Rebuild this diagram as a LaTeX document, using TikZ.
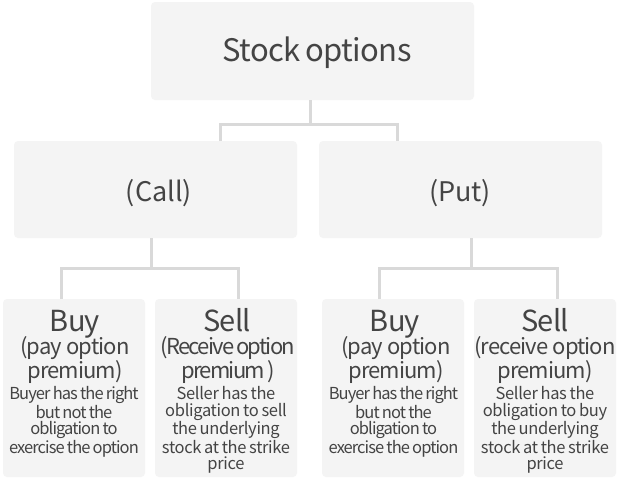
\documentclass[tikz,border=0pt]{standalone}
\usepackage{fontspec}
\setmainfont{Noto Sans CJK KR}
\newfontfamily\topfont[LetterSpace=-2]{Noto Sans CJK KR}
\newfontfamily\ttlfont[LetterSpace=-3]{Noto Sans CJK KR}
\newfontfamily\subfontA[LetterSpace=-4]{Noto Sans CJK KR}
\newfontfamily\subfontB[LetterSpace=-8,WordSpace=0.6]{Noto Sans CJK KR}
\newfontfamily\descfontA[LetterSpace=-5.6,WordSpace=0.8]{Noto Sans CJK KR}
\newfontfamily\descfontB[LetterSpace=-2,WordSpace=0.8]{Noto Sans CJK KR}
\definecolor{boxfill}{HTML}{F4F4F4}
\definecolor{linegray}{HTML}{D9D9D9}
\definecolor{txt}{HTML}{444444}
\begin{document}
\begin{tikzpicture}[x=1pt,y=-1pt,
  box/.style={fill=boxfill, rounded corners=4pt, draw=none, inner sep=0pt, outer sep=0pt, anchor=north west},
  conn/.style={draw=linegray, line width=3pt},
  txtnode/.style={text=txt, inner sep=0pt, align=center},
  bigtxt/.style={txtnode, font=\topfont\fontsize{31}{31}\selectfont, anchor=base},
  midtxt/.style={txtnode, font=\fontsize{27}{27}\selectfont, anchor=base},
  ttltxt/.style={txtnode, font=\ttlfont\fontsize{29}{29}\selectfont, anchor=base},
  subtxt/.style={txtnode, font=\subfontA\fontsize{22}{19.5}\selectfont, anchor=north},
  subtxtB/.style={txtnode, font=\subfontB\fontsize{22}{19.5}\selectfont, anchor=north},
  desctxt/.style={txtnode, font=\descfontA\fontsize{16.5}{16.8}\selectfont, anchor=north},
  desctxtB/.style={txtnode, font=\descfontB\fontsize{16.5}{16.8}\selectfont, anchor=north}]
\fill[white] (0,0) rectangle (620,480);
\useasboundingbox (0,0) rectangle (620,480);
% boxes
\node[box, minimum width=323pt, minimum height=98pt] (top) at (151,2) {};
\node[box, minimum width=283pt, minimum height=97pt] (call) at (14,141) {};
\node[box, minimum width=283pt, minimum height=97pt] (put) at (319,141) {};
\node[box, minimum width=142pt, minimum height=178pt] (buyA) at (3,299) {};
\node[box, minimum width=142pt, minimum height=178pt] (sellA) at (155,299) {};
\node[box, minimum width=142pt, minimum height=178pt] (buyB) at (322,299) {};
\node[box, minimum width=142pt, minimum height=178pt] (sellB) at (474,299) {};
% junction coordinates
\coordinate (j0) at (310,124);
\coordinate (j0L) at (220,124);
\coordinate (j0R) at (397,124);
\coordinate (j1) at (151,268);
\coordinate (j1L) at (61,268);
\coordinate (j1R) at (238,268);
\coordinate (j2) at (471,268);
\coordinate (j2L) at (379,268);
\coordinate (j2R) at (557,268);
% connectors
\draw[conn] (j0 |- top.south) -- (j0);
\draw[conn] (j0L |- call.north) -- (j0L) -- (j0R) -- (j0R |- put.north);
\draw[conn] (j1 |- call.south) -- (j1);
\draw[conn] (j1L |- buyA.north) -- (j1L) -- (j1R) -- (j1R |- sellA.north);
\draw[conn] (j2 |- put.south) -- (j2);
\draw[conn] (j2L |- buyB.north) -- (j2L) -- (j2R) -- (j2R |- sellB.north);
% texts
\node[bigtxt] (topT) at (317,61) {Stock options};
\node[midtxt] (callT) at (159,201) {(Call)};
\node[midtxt] (putT) at (460,201) {(Put)};
\node[ttltxt] (buyAT) at (75,331) {Buy};
\node[subtxt] (buyAS) at (75,336) {(pay option\\premium)};
\node[desctxt] (buyAD) at (74,386.5) {Buyer has the right\\but not the\\obligation to\\exercise the option};
\node[ttltxt] (sellAT) at (227,331) {Sell};
\node[subtxtB] (sellAS) at (228,336) {(Receive option\\premium )};
\node[desctxtB] (sellAD) at (226,386.5) {Seller has the\\obligation to sell\\the underlying\\stock at the strike\\price};
\node[ttltxt] (buyBT) at (395,331) {Buy};
\node[subtxt] (buyBS) at (396,336) {(pay option\\premium)};
\node[desctxt] (buyBD) at (393.5,386.5) {Buyer has the right\\but not the\\obligation to\\exercise the option};
\node[ttltxt] (sellBT) at (545,331) {Sell};
\node[subtxt] (sellBS) at (545,336) {(receive option\\premium)};
\node[desctxtB] (sellBD) at (545,386.5) {Seller has the\\obligation to buy\\the underlying\\stock at the strike\\price};
\end{tikzpicture}
\end{document}
